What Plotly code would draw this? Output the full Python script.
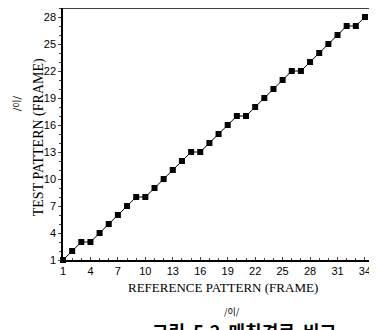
import plotly.graph_objects as go

ref_frames = list(range(1, 35))
test_frames = [1, 2, 3, 3, 4, 5, 6, 7, 8, 8, 9, 10, 11, 12, 13, 13, 14, 15, 16, 17,
               17, 18, 19, 20, 21, 22, 22, 23, 24, 25, 26, 27, 27, 28]
x_ticks = [1, 4, 7, 10, 13, 16, 19, 22, 25, 28, 31, 34]
y_ticks = [1, 4, 7, 10, 13, 16, 19, 22, 25, 28]

fig = go.Figure()
fig.add_trace(go.Scatter(
    x=ref_frames, y=test_frames, mode="lines+markers",
    line=dict(color="black", width=1),
    marker=dict(symbol="square", size=6, color="black"),
    cliponaxis=False, showlegend=False))

serif = "Liberation Serif"
sans = "Liberation Sans"
kr = "Noto Sans CJK KR"
fig.update_layout(
    width=369, height=322,
    margin=dict(l=55, r=7, t=0, b=70),
    paper_bgcolor="white", plot_bgcolor="white",
    xaxis=dict(range=[1, 34.55], tickvals=x_ticks, ticks="inside", ticklen=3,
               minor=dict(dtick=1, ticks="inside", ticklen=2, tick0=1),
               showline=True, linecolor="black", linewidth=1.5, showgrid=False,
               zeroline=False, tickfont=dict(family=sans, size=11, color="black")),
    yaxis=dict(range=[1, 29], tickvals=y_ticks, ticks="outside", ticklen=3,
               minor=dict(dtick=1, ticks="outside", ticklen=2, tick0=1),
               showline=True, linecolor="black", linewidth=1.5, showgrid=False,
               zeroline=False, tickfont=dict(family=sans, size=11, color="black")),
)
fig.add_shape(type="line", xref="paper", yref="paper", x0=0, x1=1.03, y0=1, y1=1,
              line=dict(color="black", width=1.5))

fig.add_annotation(text="TEST PATTERN (FRAME)", xref="paper", yref="paper",
                   x=-0.11, y=0.488, textangle=-90, showarrow=False,
                   font=dict(family=serif, size=14, color="black"))
fig.add_annotation(text="/이/", xref="paper", yref="paper",
                   x=-0.18, xanchor="left", y=0.623, textangle=-90, showarrow=False,
                   font=dict(family=kr, size=9, color="black"))
fig.add_annotation(text="REFERENCE PATTERN (FRAME)", xref="paper", yref="paper",
                   x=0.521, y=-0.111, yanchor="middle", showarrow=False,
                   font=dict(family=serif, size=13, color="black"))
fig.add_annotation(text="/이/", xref="paper", yref="paper",
                   x=0.55, y=-0.206, yanchor="middle", showarrow=False,
                   font=dict(family=kr, size=9, color="black"))
fig.add_annotation(text="<b>그림  5.2  매칭경로  비교</b>", xref="paper", yref="paper",
                   x=0.282, y=-0.282, yanchor="middle", showarrow=False,
                   font=dict(family=kr, size=18, color="black"))

fig.write_html("out.html")
